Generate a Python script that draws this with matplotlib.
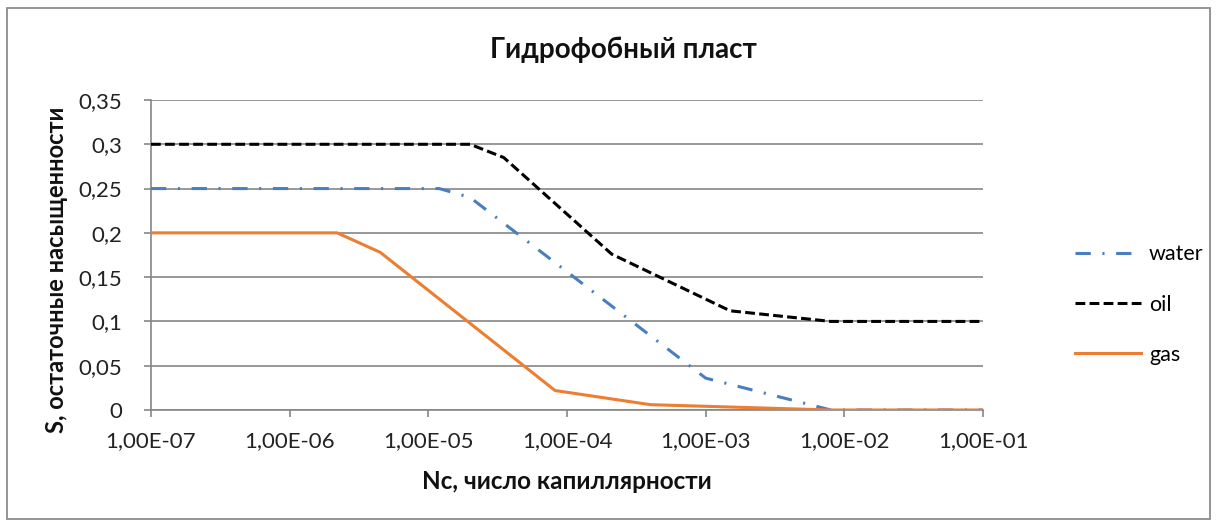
import matplotlib.pyplot as plt
from matplotlib.patches import Rectangle
from matplotlib.ticker import FixedLocator, NullLocator

plt.rcParams['font.family'] = ['Lato', 'DejaVu Sans']

# residual saturation vs capillary number
nc_water = [1e-7, 1.2e-5, 2e-5, 1e-3, 8e-3, 1e-1]
s_water = [0.25, 0.25, 0.24, 0.036, 0.0, 0.0]

nc_oil = [1e-7, 2e-5, 3.5e-5, 2.1e-4, 1.5e-3, 8e-3, 1e-1]
s_oil = [0.3, 0.3, 0.285, 0.176, 0.112, 0.1, 0.1]

nc_gas = [1e-7, 2.2e-6, 4.5e-6, 8.2e-5, 4e-4, 8e-3, 1e-1]
s_gas = [0.2, 0.2, 0.178, 0.022, 0.006, 0.0, 0.0]

x_ticks = [1e-7, 1e-6, 1e-5, 1e-4, 1e-3, 1e-2, 1e-1]
x_labels = ['1,00E-07', '1,00E-06', '1,00E-05', '1,00E-04', '1,00E-03', '1,00E-02', '1,00E-01']
y_ticks = [0, 0.05, 0.1, 0.15, 0.2, 0.25, 0.3, 0.35]
y_labels = ['0', '0,05', '0,1', '0,15', '0,2', '0,25', '0,3', '0,35']

COLOR_GRID = '#868686'
COLOR_BLUE = '#4a7fbf'
COLOR_ORANGE = '#ed7d31'

fig = plt.figure(figsize=(12.17, 5.26), dpi=100)
W, H = 1217, 526
ax = fig.add_axes([151 / W, 1 - 410 / H, (983 - 151) / W, (410 - 100) / H])

# chart frame
fig.patches.append(Rectangle((7 / W, 1 - 519 / H), 1203 / W, 511 / H,
                             transform=fig.transFigure, fill=False,
                             edgecolor='#8c8c8c', linewidth=1.3))

ax.plot(nc_water, s_water, color=COLOR_BLUE, linewidth=2.2,
        dashes=(5, 3.8, 0.7, 3.8), label='water', zorder=3)
ax.plot(nc_oil, s_oil, color='black', linewidth=2.2,
        dashes=(3.2, 1.4), label='oil', zorder=3)
ax.plot(nc_gas, s_gas, color=COLOR_ORANGE, linewidth=2.2,
        label='gas', zorder=4)

ax.set_xscale('log')
ax.set_xlim(1e-7, 1e-1)
ax.set_ylim(0, 0.35)
ax.xaxis.set_major_locator(FixedLocator(x_ticks))
ax.xaxis.set_minor_locator(NullLocator())
ax.set_xticklabels(x_labels)
ax.set_yticks(y_ticks)
ax.set_yticklabels(y_labels)

ax.grid(axis='y', color=COLOR_GRID, linewidth=1.2)
ax.set_axisbelow(True)
for side in ['top', 'right']:
    ax.spines[side].set_visible(False)
for side in ['left', 'bottom']:
    ax.spines[side].set_color(COLOR_GRID)
    ax.spines[side].set_linewidth(1.2)

ax.tick_params(axis='both', colors=COLOR_GRID, labelcolor='#222222',
               labelsize=16, length=5, width=1.2, direction='out')
ax.tick_params(axis='x', pad=10)
ax.tick_params(axis='y', pad=16)

fig.text(623 / W, 1 - 50 / H, 'Гидрофобный пласт', ha='center', va='center',
         fontsize=20, fontweight='bold', color='#111111')
ax.set_xlabel('Nc, число капиллярности', fontsize=17.5, fontweight='bold',
              color='#111111', labelpad=14)
fig.text(57 / W, 1 - 270 / H, 'S, остаточные насыщенности', rotation=90,
         ha='center', va='center', fontsize=17, fontweight='bold',
         color='#111111')

ax.legend(loc='center left', bbox_to_anchor=(1.087, 0.34), frameon=False,
          fontsize=15.5, handlelength=3.1, handletextpad=0.35, labelspacing=1.4)

fig.savefig('out.png', dpi=100)
